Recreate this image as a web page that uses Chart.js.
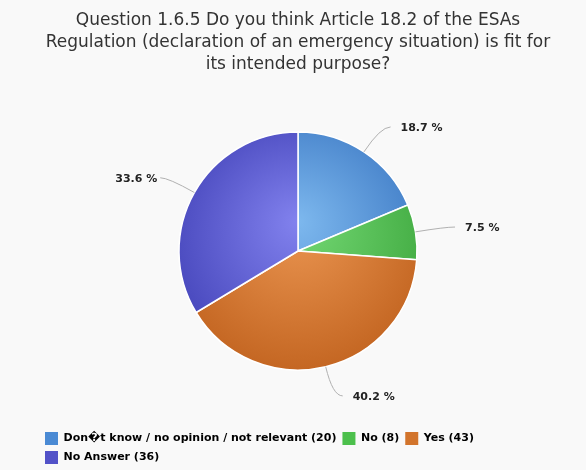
<!DOCTYPE html>
<html>
<head>
<meta charset="utf-8">
<script src="https://cdn.jsdelivr.net/npm/chart.js@4/dist/chart.umd.min.js"></script>
<style>
  html, body { margin: 0; padding: 0; background: #f9f9f9; }
  #wrap { width: 586px; height: 470px; }
</style>
</head>
<body>
<div id="wrap"><canvas id="pieChart" width="586" height="470"></canvas></div>
<script>
// data
const categories = ['Don\uFFFDt know / no opinion / not relevant', 'No', 'Yes', 'No Answer'];
const counts = [20, 8, 43, 36];
const percentLabels = ['18.7 %', '7.5 %', '40.2 %', '33.6 %'];
const titleLines = [
    'Question 1.6.5 Do you think Article 18.2 of the ESAs',
    'Regulation (declaration of an emergency situation) is fit for',
    'its intended purpose?'
];

const baseColors = ['#4a8ad4', '#4cc04c', '#d2742c', '#5252c8'];
const lightColors = ['#7db8ee', '#74d874', '#eb9652', '#8282ee'];
const darkColors = ['#3a76c2', '#3ca63c', '#bf601c', '#4040b6'];

const legendLabels = categories.map((c, i) => c + ' (' + counts[i] + ')');

// radial shading like the original
function sliceFill(c) {
    const i = c.dataIndex;
    const area = c.chart.chartArea;
    if (!area) return baseColors[i];
    const cx = (area.left + area.right) / 2;
    const cy = (area.top + area.bottom) / 2;
    const g = c.chart.ctx.createRadialGradient(cx, cy - 30, 0, cx, cy - 10, 150);
    g.addColorStop(0, lightColors[i]);
    g.addColorStop(1, darkColors[i]);
    return g;
}

// outside labels with connector lines
const pieLabels = {
    id: 'pieLabels',
    afterDatasetsDraw(chart) {
        const ctx = chart.ctx;
        const meta = chart.getDatasetMeta(0);
        ctx.save();
        meta.data.forEach((arc, i) => {
            const mid = (arc.startAngle + arc.endAngle) / 2;
            const r = arc.outerRadius;
            const cos = Math.cos(mid), sin = Math.sin(mid);
            const x0 = arc.x + cos * r, y0 = arc.y + sin * r;
            const x1 = arc.x + cos * (r + 30), y1 = arc.y + sin * (r + 30);
            const right = cos >= 0;
            const x2 = x1 + (right ? 10 : -8);
            ctx.strokeStyle = '#b0b0b0';
            ctx.lineWidth = 1;
            ctx.beginPath();
            ctx.moveTo(x0, y0);
            ctx.quadraticCurveTo(x1, y1, x2, y1);
            ctx.stroke();
            ctx.fillStyle = '#222';
            ctx.font = 'bold 11px "DejaVu Sans"';
            ctx.textAlign = right ? 'left' : 'right';
            ctx.textBaseline = 'middle';
            ctx.fillText(percentLabels[i], x2 + (right ? 10 : -3), y1 + 1);
        });
        ctx.restore();
    }
};

const ctx = document.getElementById('pieChart').getContext('2d');
const pieChart = new Chart(ctx, {
    type: 'pie',
    data: {
        labels: legendLabels,
        datasets: [{
            data: counts,
            backgroundColor: sliceFill,
            borderColor: '#ffffff',
            borderWidth: 1.5,
            radius: 119
        }]
    },
    options: {
        responsive: false,
        animation: false,
        layout: {
            padding: { left: 39, right: 29, top: 0, bottom: -4 }
        },
        plugins: {
            title: {
                display: true,
                text: titleLines,
                color: '#333',
                font: { family: '"DejaVu Sans"', size: 17, weight: 'normal', lineHeight: 1.294 },
                padding: { top: 10, bottom: 0 }
            },
            legend: {
                position: 'bottom',
                align: 'start',
                labels: {
                    boxWidth: 13,
                    boxHeight: 13,
                    padding: 6,
                    color: '#333',
                    font: { family: '"DejaVu Sans"', size: 11, weight: 'bold' },
                    generateLabels: chart => legendLabels.map((t, i) => ({
                        text: t,
                        fillStyle: baseColors[i],
                        strokeStyle: baseColors[i],
                        lineWidth: 0,
                        hidden: false,
                        index: i
                    }))
                },
                onClick: null
            },
            tooltip: { enabled: false }
        }
    },
    plugins: [pieLabels]
});
</script>
</body>
</html>
